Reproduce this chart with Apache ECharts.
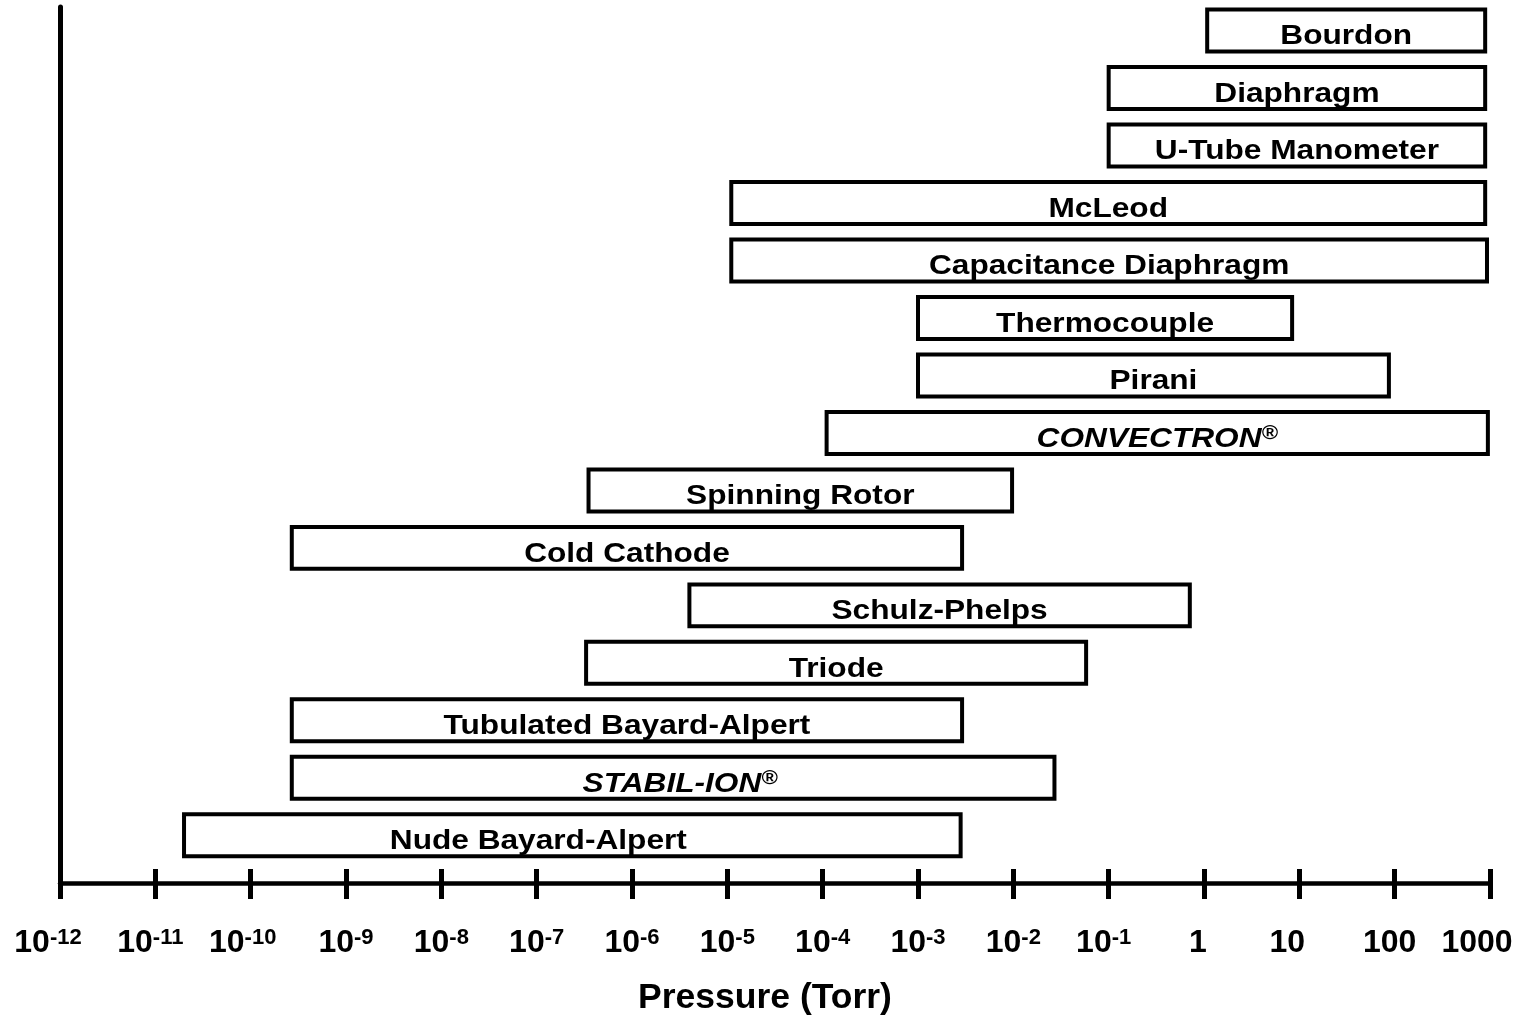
<!DOCTYPE html>
<html><head><meta charset="utf-8">
<script src="https://cdn.jsdelivr.net/npm/echarts@6/dist/echarts.min.js"></script>
<style>html,body{margin:0;padding:0;background:#fff}#c{width:1529px;height:1021px}</style>
</head><body><div id="c"></div>
<script>
// Gauge names, top to bottom
const gauges = ['Bourdon','Diaphragm','U-Tube Manometer','McLeod','Capacitance Diaphragm','Thermocouple','Pirani','CONVECTRON®','Spinning Rotor','Cold Cathode','Schulz-Phelps','Triode','Tubulated Bayard-Alpert','STABIL-ION®','Nude Bayard-Alpert'];
// Lower and upper pressure limits (Torr)
const lowTorr  = [1.08, 0.1, 0.1, 1.1e-5, 1.1e-5, 1.0e-3, 1.0e-3, 1.1e-4, 3.5e-7, 2.7e-10, 4.0e-6, 3.3e-7, 2.7e-10, 2.7e-10, 2.0e-11];
const highTorr = [890, 890, 890, 890, 930, 8.4, 87, 950, 9.7e-3, 2.9e-3, 0.71, 0.058, 2.9e-3, 0.027, 2.8e-3];
// Axis ticks (decades) and their labels
const tickExponents = [-12,-11,-10,-9,-8,-7,-6,-5,-4,-3,-2,-1,0,1,2,3];
const tickLabels = ['10^-12','10^-11','10^-10','10^-9','10^-8','10^-7','10^-6','10^-5','10^-4','10^-3','10^-2','10^-1','1','10','100','1000'];
const axisTitle = 'Pressure (Torr)';

// style-only settings
const italicNames = ['CONVECTRON®','STABIL-ION®'];
const labelShiftPx = {'Nude Bayard-Alpert': -34, 'STABIL-ION®': 7};
const tickLabelNudgePx = {'-12': -12, '-11': -5, '-10': -8, '-1': -5, '0': -6, '1': -12, '2': -5, '3': -13};
const FONT = "'Liberation Sans', Arial, Helvetica, sans-serif";

const n = gauges.length;
const seriesData = gauges.map((g, i) => [Math.log10(lowTorr[i]), Math.log10(highTorr[i]), n - 1 - i]);

function labelText(name) {
  if (italicNames.indexOf(name) >= 0) {
    return '{i|' + name.replace('®', '') + '}{r|®}';
  }
  return '{b|' + name + '}';
}

const chart = echarts.init(document.getElementById('c'), null, {renderer: 'canvas'});
chart.setOption({
  backgroundColor: '#fff',
  animation: false,
  grid: {left: 60, right: 39, top: 7, bottom: 137},
  xAxis: [{
    type: 'value', min: -12, max: 3, interval: 1,
    position: 'bottom',
    axisLine: {show: true, onZero: false, lineStyle: {color: '#000', width: 4.5}},
    axisTick: {show: true, inside: false, length: 16, lineStyle: {color: '#000', width: 5}},
    splitLine: {show: false},
    axisLabel: {
      margin: 44,
      formatter: function (v) {
        const e = Math.round(v);
        const k = tickExponents.indexOf(e);
        if (k < 0) return '';
        const s = tickLabels[k];
        const nudge = tickLabelNudgePx[String(e)] || 0;
        let txt;
        if (s.indexOf('^') >= 0) {
          const parts = s.split('^');
          txt = '{b|' + parts[0] + '}{s|' + parts[1] + '}';
        } else {
          txt = '{b|' + s + '}';
        }
        if (nudge < 0) txt += '{g' + (-nudge * 2) + '|}';
        return txt;
      },
      rich: (function () {
        const r = {
          b: {fontSize: 32, fontWeight: 'bold', fontFamily: FONT, color: '#000', lineHeight: 32},
          s: {fontSize: 22, fontWeight: 'bold', fontFamily: FONT, color: '#000', verticalAlign: 'top', lineHeight: 22}
        };
        for (let w = 2; w <= 40; w += 2) r['g' + w] = {width: w, height: 1};
        return r;
      })()
    },
    name: axisTitle,
    nameLocation: 'middle',
    nameGap: 97,
    nameTextStyle: {fontSize: 35.5, fontWeight: 'bold', fontFamily: FONT, color: '#000', padding: [0, 20, 0, 0]}
  }, {
    type: 'value', min: -12, max: 3, interval: 1,
    position: 'bottom', offset: 0,
    axisLine: {show: false, onZero: false},
    axisTick: {show: true, inside: true, length: 14, lineStyle: {color: '#000', width: 5}},
    axisLabel: {show: false},
    splitLine: {show: false}
  }],
  yAxis: {
    type: 'value', min: -0.83, max: 14.41,
    axisLine: {show: true, onZero: false, lineStyle: {color: '#000', width: 5}},
    axisTick: {show: false}, axisLabel: {show: false}, splitLine: {show: false}
  },
  series: [{
    type: 'custom',
    clip: false,
    xAxisIndex: 0,
    encode: {x: [0, 1], y: 2},
    data: seriesData,
    renderItem: function (params, api) {
      const i = params.dataIndex;
      const name = gauges[i];
      const p0 = api.coord([api.value(0), api.value(2)]);
      const p1 = api.coord([api.value(1), api.value(2)]);
      const h = api.size([0, 0.73])[1];
      const cx = (p0[0] + p1[0]) / 2 + (labelShiftPx[name] || 0);
      return {
        type: 'group',
        children: [{
          type: 'rect',
          shape: {x: p0[0], y: p0[1] - h / 2, width: p1[0] - p0[0], height: h},
          style: {fill: '#fff', stroke: '#000', lineWidth: 4}
        }, {
          type: 'text',
          x: cx, y: p0[1] + 6,
          scaleX: 1.11,
          style: {
            text: labelText(name),
            fill: '#000',
            align: 'center', verticalAlign: 'middle',
            fontSize: 28.5, fontWeight: 'bold', fontFamily: FONT,
            rich: {
              b: {fontSize: 28.5, fontWeight: 'bold', fontFamily: FONT, fill: '#000', lineHeight: 30},
              i: {fontSize: 28.5, fontWeight: 'bold', fontStyle: 'italic', fontFamily: FONT, fill: '#000', lineHeight: 30},
              r: {fontSize: 20, fontWeight: 'bold', fontStyle: 'italic', fontFamily: FONT, fill: '#000', lineHeight: 20, verticalAlign: 'top'}
            }
          }
        }]
      };
    }
  }]
});
</script>
</body></html>
